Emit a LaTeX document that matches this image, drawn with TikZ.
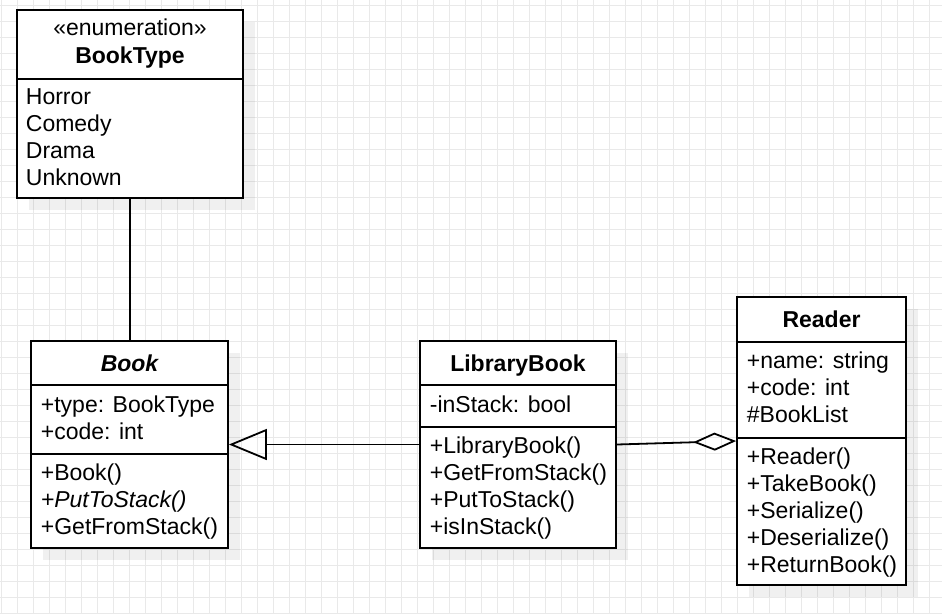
\documentclass[tikz,border=0pt]{standalone}
\usepackage{fontspec}
\setmainfont{Liberation Sans}
\usepackage{tikz}
\usetikzlibrary{arrows.meta}
\usetikzlibrary{shadows}

\begin{document}
\begin{tikzpicture}[x=1pt, y=-1pt, line width=1.8pt,
    cls/.style = {draw, fill=white, inner sep=0pt,
      drop shadow={shadow xshift=12pt, shadow yshift=-12pt, fill=black, opacity=0.06}},
    member/.style = {anchor=base west, inner sep=0pt, font=\fontsize{23}{27}\selectfont},
    stereo/.style = {anchor=base, inner sep=0pt, font=\fontsize{23}{27}\selectfont},
    classname/.style = {stereo, font=\fontsize{23}{27}\selectfont\bfseries}]
		\useasboundingbox (0,0) rectangle (942,614);
		\begin{scope}[line width=1pt, draw=gray!17]
			\clip (0,0) rectangle (942,614);
			\foreach \gx in {1.3,17.3,...,942} \draw (\gx,0) -- (\gx,614);
			\foreach \gy in {5.3,21.3,...,614} \draw (0,\gy) -- (942,\gy);
		\end{scope}
		
		\node[cls, minimum width=226pt, minimum height=188pt] (booktype) at (130,104) {};
		\node[cls, minimum width=197pt, minimum height=207pt] (book) at (129.5,444.5) {};
		\node[cls, minimum width=196pt, minimum height=207pt] (libbook) at (518,444.5) {};
		\node[cls, minimum width=169pt, minimum height=288pt] (reader) at (821.5,441) {};
		
		\draw (booktype.west |- 0,79) -- (booktype.east |- 0,79);
		\draw (book.west |- 0,385) -- (book.east |- 0,385);
		\draw (book.west |- 0,454) -- (book.east |- 0,454);
		\draw (libbook.west |- 0,385) -- (libbook.east |- 0,385);
		\draw (libbook.west |- 0,427) -- (libbook.east |- 0,427);
		\draw (reader.west |- 0,342) -- (reader.east |- 0,342);
		\draw (reader.west |- 0,438) -- (reader.east |- 0,438);
		
		\node[stereo] (bt-st) at (130,35) {«enumeration»};
		\node[classname] (bt-name) at (130,63) {BookType};
		\foreach \txt [count=\i] in {Horror, Comedy, Drama, Unknown}
			\node[member] (bt-\i) at (25,77+27*\i) {\txt};
		
		\node[classname] (b-name) at (129.5,371) {\itshape Book};
		\foreach \txt [count=\i] in {+type: BookType, +code: int}
			\node[member] (b-a\i) at (40,385+27*\i) {\txt};
		\foreach \txt [count=\i] in {+Book(), \itshape +PutToStack(), +GetFromStack()}
			\node[member] (b-m\i) at (40,453+27*\i) {\txt};
		
		\node[classname] (lb-name) at (518,371) {LibraryBook};
		\node[member] (lb-a1) at (429,412) {-inStack: bool};
		\foreach \txt [count=\i] in {+LibraryBook(), +GetFromStack(), +PutToStack(), +isInStack()}
			\node[member] (lb-m\i) at (429,426+27*\i) {\txt};
		
		\node[classname] (r-name) at (821.5,327) {Reader};
		\foreach \txt [count=\i] in {+name: string, +code: int, \#BookList}
			\node[member] (r-a\i) at (746,341+27*\i) {\txt};
		\foreach \txt [count=\i] in {+Reader(), +TakeBook(), +Serialize(), +Deserialize(), +ReturnBook()}
			\node[member] (r-m\i) at (746,437+27*\i) {\txt};
		
		\draw (booktype.south) -- (booktype.south |- book.north);
		\draw[-{Triangle[open, length=38pt, width=31pt]}] (libbook.west) -- (book.east);
		\draw[-{Diamond[open, length=43pt, width=18pt]}] (libbook.east) -- (reader.west);
	\end{tikzpicture}
\end{document}
